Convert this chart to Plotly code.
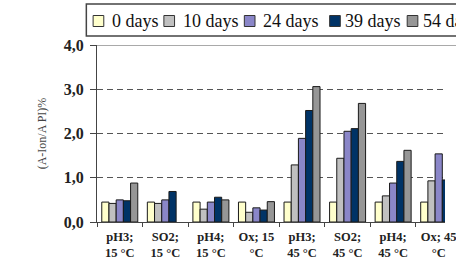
import plotly.graph_objects as go

categories = ["pH3;<br>15 °C", "SO2;<br>15 °C", "pH4;<br>15 °C", "Ox; 15<br>°C",
              "pH3;<br>45 °C", "SO2;<br>45 °C", "pH4;<br>45 °C", "Ox; 45<br>°C"]
series_names = ["0 days", "10 days", "24 days", "39 days", "54 days"]
days_0 = [0.45, 0.45, 0.45, 0.45, 0.45, 0.45, 0.45, 0.45]
days_10 = [0.42, 0.42, 0.29, 0.22, 1.29, 1.44, 0.59, 0.93]
days_24 = [0.50, 0.50, 0.45, 0.32, 1.89, 2.05, 0.88, 1.54]
days_39 = [0.48, 0.69, 0.56, 0.27, 2.52, 2.11, 1.37, 0.95]
days_54 = [0.88, None, 0.50, 0.46, 3.06, 2.68, 1.62, 1.20]
series_values = [days_0, days_10, days_24, days_39, days_54]
colors = ["#FFFFCC", "#C0C0C0", "#8A86C8", "#003366", "#969696"]
y_tickvals = [0, 1, 2, 3, 4]

W, H = 456, 267
L, T, B = 97, 45, 45
plot_w = W - L
plot_h = H - T - B
cat_px = 47.0

def px_x(p):
    return (p - L) / plot_w

def px_y(p):
    return (H - B - p) / plot_h

fig = go.Figure()
for name, vals, c in zip(series_names, series_values, colors):
    fig.add_trace(go.Bar(x=categories, y=vals, name=name, marker_color=c,
                         marker_line_color="#1a1a1a", marker_line_width=1,
                         showlegend=False))

serif = "Liberation Serif, Times New Roman, serif"
fig.update_layout(
    width=W, height=H,
    margin=dict(l=L, r=0, t=T, b=B, pad=0),
    paper_bgcolor="white", plot_bgcolor="white",
    barmode="group", bargap=0.21, bargroupgap=0,
    separators=",.",
    xaxis=dict(range=[-0.5, -0.5 + plot_w / cat_px], showline=True,
               linecolor="#444", linewidth=1, ticks="outside", ticklen=4,
               tickcolor="#444", tickson="boundaries", showgrid=False,
               ticklabelstandoff=3,
               tickfont=dict(family=serif, size=12.5, color="#222", weight="bold")),
    yaxis=dict(range=[0, 4], tickvals=y_tickvals, tickformat=".1f",
               showline=True, linecolor="#444", linewidth=1, ticks="outside",
               ticklen=6, tickcolor="#444", zeroline=False, ticklabelstandoff=3,
               showgrid=True, gridcolor="#555", gridwidth=1, griddash="6px,4px",
               tickfont=dict(family=serif, size=16, color="#222", weight="bold"),
               title=dict(text="(A-Ion/A PI)%", standoff=14,
                          font=dict(family=serif, size=12, color="#444"))),
)

# solid top line at 4,0
fig.add_shape(type="line", xref="paper", yref="y", x0=0, x1=1.2, y0=4, y1=4,
              line=dict(color="#555", width=1.2))

# legend box
fig.add_shape(type="rect", xref="paper", yref="paper",
              x0=px_x(86), x1=1.3, y0=px_y(36), y1=px_y(4),
              line=dict(color="#444", width=1.5), fillcolor="white")
sq_left = [93, 166, 249, 337, 417]
text_off = [17, 18, 17, 14, 14]
for name, c, sx, off in zip(series_names, colors, sq_left, text_off):
    fig.add_shape(type="rect", xref="paper", yref="paper",
                  x0=px_x(sx), x1=px_x(sx + 11), y0=px_y(26.5), y1=px_y(15.5),
                  line=dict(color="#333", width=1), fillcolor=c)
    fig.add_annotation(xref="paper", yref="paper", x=px_x(sx + off), y=px_y(21),
                       xanchor="left", yanchor="middle", text=name, showarrow=False,
                       font=dict(family=serif, size=18, color="#111"))

fig.write_html("out.html")
